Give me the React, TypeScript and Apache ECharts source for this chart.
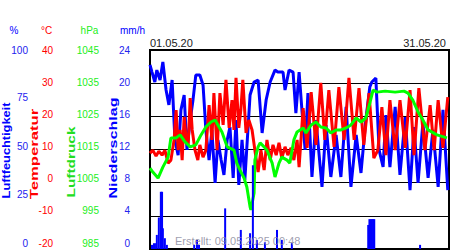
import React, { useEffect, useRef } from "react";
import * as echarts from "echarts";

// hour of month (0..744) , value
const humidity: [number, number][] = [
  [0, 92.5], [5, 88.9], [12, 83.9], [17, 89.9], [25, 84.9], [32, 94.0], [40, 79.9], [47, 72.4],
  [55, 84.9], [62, 54.8], [70, 47.2], [77, 69.9], [85, 77.4], [92, 49.8], [100, 64.8], [107, 74.9],
  [114, 87.4], [124, 87.4], [132, 82.4], [139, 59.8], [147, 44.7], [154, 59.8], [162, 33.2], [169, 54.8],
  [177, 44.7], [184, 37.2], [192, 54.8], [199, 61.3], [207, 35.7], [214, 64.8], [221, 32.2], [229, 54.8],
  [236, 34.7], [249, 77.4], [259, 83.9], [269, 84.9], [279, 58.3], [289, 74.9], [299, 83.9], [311, 89.9],
  [318, 88.9], [331, 88.9], [336, 79.9], [346, 89.9], [356, 88.9], [363, 68.3], [371, 88.9], [378, 69.9],
  [386, 49.8], [393, 78.4], [403, 36.2], [413, 64.8], [428, 31.2], [438, 62.3], [450, 36.2], [463, 57.3],
  [475, 36.2], [488, 71.4], [500, 31.2], [513, 57.3], [525, 38.2], [537, 64.8], [547, 81.4], [552, 83.9],
  [562, 85.9], [570, 49.8], [580, 41.2], [587, 67.3], [597, 41.2], [610, 71.4], [622, 37.2], [635, 66.3],
  [647, 29.6], [657, 61.3], [667, 33.2], [679, 63.3], [692, 35.7], [704, 59.8], [717, 31.2], [729, 69.9],
  [741, 29.6],
];

const temperature: [number, number][] = [
  [0, 8.9], [7, 9.8], [15, 8.0], [22, 9.5], [30, 8.3], [37, 9.8], [45, 5.9], [52, 6.8],
  [60, 12.9], [65, 21.9], [70, 9.8], [75, 15.9], [80, 6.8], [85, 19.8], [90, 12.9], [95, 11.4],
  [100, 25.5], [105, 15.9], [112, 9.8], [119, 6.8], [124, 11.4], [132, 7.7], [139, 9.8], [147, 23.4],
  [154, 12.9], [159, 27.0], [167, 9.8], [174, 27.0], [182, 17.4], [189, 31.0], [197, 16.5], [204, 24.9],
  [209, 15.9], [214, 31.6], [221, 16.5], [226, 21.9], [231, 31.0], [239, 15.0], [246, 18.9], [254, 15.9],
  [261, 9.8], [269, 3.2], [276, 9.8], [284, 3.8], [291, 12.9], [299, 6.8], [306, 11.4], [314, 8.3],
  [321, 12.0], [328, 7.4], [336, 10.8], [343, 8.3], [351, 10.5], [358, 6.8], [366, 12.9], [371, 4.7],
  [381, 22.5], [391, 10.5], [401, 27.3], [413, 11.4], [425, 30.1], [435, 12.9], [445, 27.9], [458, 10.8],
  [470, 28.8], [483, 12.9], [495, 31.6], [508, 12.9], [520, 28.5], [532, 11.4], [545, 27.0], [557, 7.4],
  [567, 9.8], [577, 22.8], [587, 8.3], [597, 24.9], [610, 9.8], [622, 24.9], [635, 10.5], [647, 27.9],
  [657, 8.3], [669, 28.5], [684, 9.8], [697, 23.4], [707, 9.8], [717, 24.9], [729, 10.5], [741, 25.8],
];

const pressure: [number, number][] = [
  [0, 1009.4], [7, 1008.2], [20, 1006.4], [32, 1009.7], [45, 1012.7], [52, 1018.5], [65, 1018.5],
  [75, 1019.4], [87, 1017.3], [100, 1015.8], [114, 1016.4], [127, 1019.4], [139, 1021.8], [152, 1023.3],
  [162, 1023.9], [169, 1022.4], [179, 1020.3], [192, 1015.8], [209, 1014.8], [216, 1010.9], [224, 1008.8],
  [234, 1006.4], [241, 1003.7], [249, 997.7], [251, 996.8], [259, 1001.9], [261, 1011.8], [269, 1015.8],
  [274, 1017.0], [284, 1015.8], [291, 1014.8], [304, 1010.9], [311, 1006.7], [321, 1010.9], [328, 1012.7],
  [341, 1011.8], [348, 1010.9], [358, 1017.9], [366, 1020.3], [381, 1021.5], [388, 1020.0], [401, 1022.4],
  [413, 1023.3], [425, 1021.8], [438, 1021.5], [450, 1020.0], [463, 1020.9], [475, 1020.9], [488, 1021.5],
  [500, 1022.4], [513, 1024.5], [525, 1023.3], [537, 1024.5], [547, 1029.0], [555, 1032.9], [565, 1032.3],
  [585, 1032.6], [610, 1032.3], [632, 1032.6], [642, 1032.0], [654, 1029.9], [667, 1026.3], [679, 1023.9],
  [692, 1020.9], [714, 1019.4], [739, 1018.5],
];

const precipitation: [number, number][] = [
  [5, 0.5], [10, 0.7], [15, 0.7], [17, 1.7], [22, 3.8], [27, 6.9], [30, 6.9], [32, 2.5], [37, 1.3], [42, 0.5],
  [110, 0.5], [117, 1.1], [122, 0.5], [187, 4.9], [226, 2.3], [249, 1.9], [256, 10.1], [266, 1.1], [286, 0.8],
  [316, 2.3], [328, 1.1], [353, 0.7], [543, 2.9], [546, 3.6], [549, 3.6], [552, 3.6], [555, 3.6], [558, 3.6],
  [672, 0.5],
];

const humidityTicks = { min: 0, max: 100, interval: 25 };
const tempTicks = { min: -20, max: 40, interval: 10 };
const pressureTicks = { min: 985, max: 1045, interval: 10 };
const precipTicks = { min: 0, max: 24, interval: 4 };

const unitLabels = ["%", "°C", "hPa", "mm/h"];
const axisNames = ["Luftfeuchtigkeit", "Temperatur", "Luftdruck", "Niederschlag"];
const startDate = "01.05.20";
const endDate = "31.05.20";
const createdText = "Erstellt: 09.05.2025 00:48";

const BLUE = "#0000ff";
const RED = "#ff0000";
const GREEN = "#00ee00";
const FONT = "Liberation Sans, Arial, sans-serif";

function makeAxis(t: { min: number; max: number; interval: number }, color: string, offset: number, split: boolean) {
  const rich: Record<string, any> = {};
  for (let k = 0; k <= 6; k++) {
    rich["s" + k] = { color, fontSize: 10, fontFamily: FONT, padding: [0, 0, 2 * k, 0] };
  }
  return {
    type: "value",
    position: "left",
    min: t.min,
    max: t.max,
    interval: t.interval,
    offset,
    axisLine: { show: false },
    axisTick: { show: false },
    splitLine: { show: split, lineStyle: { color: "#000", width: 1 } },
    axisLabel: {
      margin: 4,
      color,
      fontSize: 10,
      fontFamily: FONT,
      formatter: (v: number) => {
        const frac = (v - t.min) / (t.max - t.min);
        const k = Math.round((1 - frac) * 6);
        return "{s" + k + "|" + v + "}";
      },
      rich,
    },
  };
}

export default function App() {
  const ref = useRef<HTMLDivElement>(null);
  useEffect(() => {
    document.body.style.margin = "0";
    const chart = echarts.init(ref.current!, null, { renderer: "svg" });
    const nameDefs = [
      { x: 7, y: 150.5, color: BLUE, scale: 1.28 },
      { x: 35, y: 154, color: RED, scale: 1.67 },
      { x: 72, y: 162, color: "#22dd22", scale: 1.54 },
      { x: 114, y: 148, color: BLUE, scale: 1.61 },
    ];
    const unitDefs = [
      { x: 14, color: BLUE },
      { x: 46.5, color: RED },
      { x: 89.5, color: "#22ee22" },
      { x: 132.5, color: BLUE },
    ];
    chart.setOption({
      animation: false,
      backgroundColor: "#fff",
      grid: { left: 150, top: 50, right: 1, bottom: 1, show: true, borderColor: "#000", borderWidth: 2 },
      xAxis: {
        type: "value",
        min: 0,
        max: 744,
        show: false,
      },
      yAxis: [
        makeAxis(humidityTicks, "#2222ee", 118, false),
        makeAxis(tempTicks, RED, 93, false),
        makeAxis(pressureTicks, "#22ee22", 47, false),
        makeAxis(precipTicks, "#2222ee", 16, true),
      ],
      series: [
        {
          type: "line", yAxisIndex: 0, data: humidity, showSymbol: false,
          lineStyle: { color: BLUE, width: 3 }, itemStyle: { color: BLUE }, z: 2,
        },
        {
          type: "line", yAxisIndex: 1, data: temperature, showSymbol: false,
          lineStyle: { color: RED, width: 3 }, itemStyle: { color: RED }, z: 3,
        },
        {
          type: "line", yAxisIndex: 2, data: pressure, showSymbol: false,
          lineStyle: { color: "#00ff00", width: 3 }, itemStyle: { color: "#00ff00" }, z: 4,
        },
        {
          type: "bar", yAxisIndex: 3, data: precipitation, barWidth: 2,
          itemStyle: { color: BLUE }, z: 5,
        },
      ],
      graphic: [
        ...unitLabels.map((u, i) => ({
          type: "text", x: unitDefs[i].x, y: 30, z: 10,
          style: { text: u, fill: unitDefs[i].color, font: "10px " + FONT, align: "center", verticalAlign: "middle" },
        })),
        ...axisNames.map((n, i) => ({
          type: "text", x: nameDefs[i].x, y: nameDefs[i].y, rotation: Math.PI / 2, scaleX: nameDefs[i].scale, z: 10,
          style: { text: n, fill: nameDefs[i].color, font: "bold 10px " + FONT, align: "center", verticalAlign: "middle" },
        })),
        {
          type: "text", x: 150, y: 43, z: 10,
          style: { text: startDate, fill: "#222", font: "11px " + FONT, align: "left", verticalAlign: "middle" },
        },
        {
          type: "text", x: 446, y: 43, z: 10,
          style: { text: endDate, fill: "#222", font: "11px " + FONT, align: "right", verticalAlign: "middle" },
        },
        {
          type: "text", x: 175, y: 241, z: 10,
          style: { text: createdText, fill: "rgba(140,140,160,0.85)", font: "11px " + FONT, align: "left", verticalAlign: "middle" },
        },
      ],
    });
    return () => chart.dispose();
  }, []);
  return <div ref={ref} style={{ position: "absolute", left: 0, top: 0, width: 450, height: 250 }} />;
}
